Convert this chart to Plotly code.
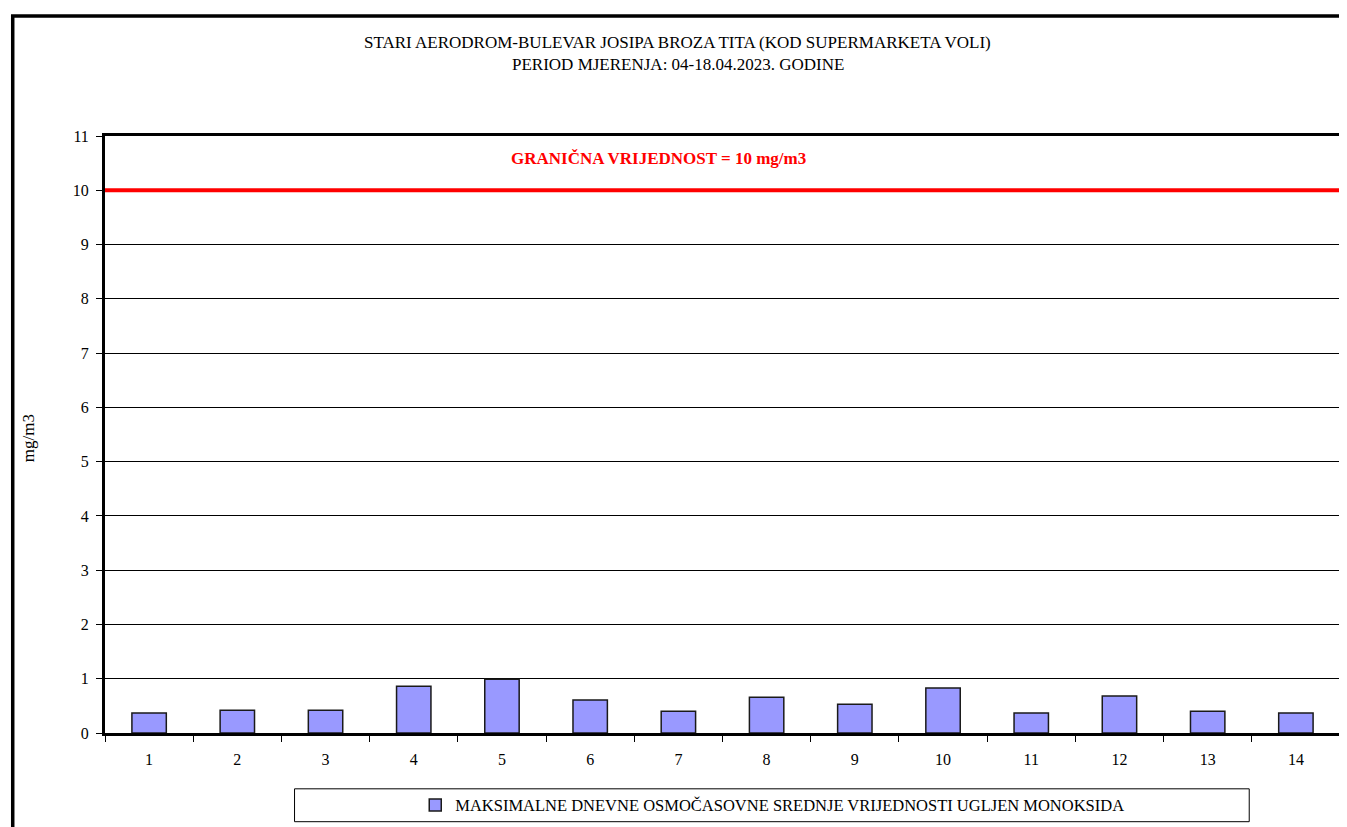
import plotly.graph_objects as go

# measurement days (1..14) and daily max 8-hour mean CO values, mg/m3
days = [str(d) for d in range(1, 15)]
co_values = [0.37, 0.42, 0.42, 0.86, 0.99, 0.61, 0.40, 0.66, 0.53, 0.83, 0.37, 0.68, 0.40, 0.37]
limit_value = 10

title_lines = [
    "STARI AERODROM-BULEVAR JOSIPA BROZA TITA (KOD SUPERMARKETA VOLI)",
    "PERIOD MJERENJA: 04-18.04.2023. GODINE",
]
series_name = "MAKSIMALNE DNEVNE OSMOČASOVNE SREDNJE VRIJEDNOSTI UGLJEN MONOKSIDA"
limit_label = "GRANIČNA VRIJEDNOST = 10 mg/m3"
y_title = "mg/m3"

FONT = "Liberation Serif"

# page has a body margin, so the figure is sized/offset to fill the window
PLOT_L, PLOT_T, PLOT_W, PLOT_H = 103, 134, 1238, 599  # page px of the plot area


def px_x(x):
    return (x - PLOT_L) / PLOT_W


def px_y(y):
    return (PLOT_T + PLOT_H - y) / PLOT_H


fig = go.Figure(
    go.Bar(
        x=days,
        y=co_values,
        name=series_name,
        marker=dict(color="#9999FF", line=dict(color="#1a1a1a", width=1.5)),
        width=0.39,
    )
)

# limit line
fig.add_shape(
    type="line", xref="paper", yref="y",
    x0=0, x1=1, y0=limit_value, y1=limit_value,
    line=dict(color="#FF0000", width=4),
)
fig.add_annotation(
    x=px_x(658), xref="paper", y=px_y(157), yref="paper",
    xanchor="center", yanchor="middle",
    text=f"<b>{limit_label}</b>", showarrow=False,
    font=dict(family=FONT, size=17, color="#FF0000"),
)

# title lines
for txt, ypx in zip(title_lines, [40, 62]):
    fig.add_annotation(
        x=px_x(677), xref="paper", y=px_y(ypx), yref="paper",
        xanchor="center", yanchor="middle",
        text=txt, showarrow=False,
        font=dict(family=FONT, size=17, color="black"),
    )

# y axis title
fig.add_annotation(
    x=px_x(27), xref="paper", y=px_y(437), yref="paper",
    xanchor="center", yanchor="middle",
    text=y_title, textangle=-90, showarrow=False,
    font=dict(family=FONT, size=17, color="black"),
)

# outer chart frame
fig.add_shape(
    type="rect", xref="paper", yref="paper",
    x0=px_x(10.5), x1=1.1, y0=-0.3, y1=px_y(13.5),
    line=dict(color="black", width=3.5), layer="below",
)
# legend frame
fig.add_shape(
    type="rect", xref="paper", yref="paper",
    x0=px_x(293), x1=px_x(1250), y0=px_y(822), y1=px_y(789),
    line=dict(color="black", width=1),
)

fig.update_layout(
    width=1339,
    height=819,
    margin=dict(l=97, r=4, t=128, b=92),
    paper_bgcolor="white",
    plot_bgcolor="white",
    font=dict(family=FONT, size=16, color="black"),
    showlegend=True,
    legend=dict(
        orientation="h",
        x=px_x(414), xanchor="left",
        y=px_y(805.5), yanchor="middle",
        bgcolor="rgba(0,0,0,0)",
        font=dict(family=FONT, size=16.5),
        itemwidth=30,
    ),
    bargap=0.6,
    xaxis=dict(
        type="category",
        showline=True, linecolor="black", linewidth=3, mirror=True,
        ticks="outside", tickson="boundaries", ticklen=6, tickcolor="black", tickwidth=1,
        ticklabelstandoff=10,
        showgrid=False,
        tickfont=dict(family=FONT, size=16),
    ),
    yaxis=dict(
        range=[0, 11],
        tickmode="linear", tick0=0, dtick=1,
        showline=True, linecolor="black", linewidth=3, mirror=True,
        ticks="outside", ticklen=6, tickcolor="black",
        ticklabelstandoff=4,
        showgrid=True, gridcolor="black", gridwidth=1,
        zeroline=False,
        tickfont=dict(family=FONT, size=16),
    ),
)

fig.write_html("out.html")
